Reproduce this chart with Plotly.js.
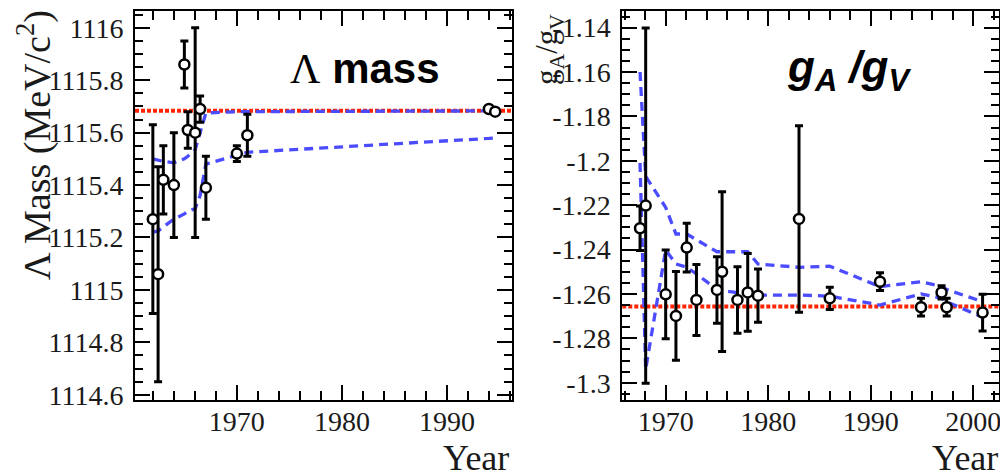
<!DOCTYPE html>
<html>
<head>
<meta charset="utf-8">
<script src="https://cdn.plot.ly/plotly-3.0.1.min.js"></script>
<style>
  html, body { margin: 0; padding: 0; background: #fff; }
  #chart { width: 1000px; height: 474px; }
</style>
</head>
<body>
<div id="chart"></div>
<script>
// Lambda mass measurements (MeV/c^2) by publication year
const massYears  = [1962.0, 1962.5, 1963.0, 1964.0, 1965.0, 1965.33, 1966.03, 1966.5, 1967.05, 1970.0, 1971.0, 1994.0, 1994.6];
const massValues = [1115.27, 1115.06, 1115.42, 1115.40, 1115.86, 1115.61, 1115.60, 1115.69, 1115.39, 1115.52, 1115.59, 1115.69, 1115.68];
const massErrors = [0.36, 0.41, 0.13, 0.20, 0.09, 0.07, 0.40, 0.05, 0.12, 0.03, 0.08, 0.01, 0.01];
// running average band (upper / lower) after each measurement
const massBandUpper = [1115.50, 1115.495, 1115.49, 1115.485, 1115.50, 1115.51, 1115.535, 1115.60, 1115.675, 1115.68, 1115.68, 1115.683, 1115.683];
const massBandLower = [1115.22, 1115.225, 1115.24, 1115.27, 1115.29, 1115.30, 1115.31, 1115.36, 1115.48, 1115.515, 1115.525, 1115.578, 1115.58];
const massReference = 1115.683;

// tick labels for the mass axis
const massTickValues = [1114.6, 1114.8, 1115, 1115.2, 1115.4, 1115.6, 1115.8, 1116];
const massTickLabels = ['1114.6', '1114.8', '1115', '1115.2', '1115.4', '1115.6', '1115.8', '1116'];

// neutron beta decay g_A/g_V measurements
const gaYears  = [1967.5, 1968.05, 1970.0, 1971.0, 1972.05, 1973.0, 1975.0, 1975.5, 1977.0, 1978.0, 1979.0, 1983.0, 1986.0, 1990.9, 1994.9, 1996.9, 1997.4, 2000.9];
const gaValues = [-1.2304, -1.2202, -1.2602, -1.2699, -1.2391, -1.2627, -1.2582, -1.2500, -1.2627, -1.2593, -1.2608, -1.2262, -1.2620, -1.2545, -1.2660, -1.2593, -1.2660, -1.2684];
const gaErrors = [0.010, 0.080, 0.020, 0.020, 0.011, 0.016, 0.015, 0.036, 0.015, 0.0175, 0.012, 0.042, 0.005, 0.004, 0.004, 0.003, 0.004, 0.0083];
const gaBandUpper = [-1.160, -1.207, -1.221, -1.233, -1.233, -1.2355, -1.241, -1.241, -1.241, -1.241, -1.2465, -1.248, -1.2475, -1.2567, -1.2545, -1.2567, -1.258, -1.2635];
const gaBandLower = [-1.201, -1.294, -1.2402, -1.2465, -1.248, -1.251, -1.258, -1.2585, -1.2594, -1.2598, -1.2605, -1.2605, -1.261, -1.265, -1.260, -1.2619, -1.2635, -1.2705];
const gaReference = -1.2657;

// tick labels for the g_A/g_V axis
const gaTickValues = [-1.14, -1.16, -1.18, -1.2, -1.22, -1.24, -1.26, -1.28, -1.3];
const gaTickLabels = ['-1.14', '-1.16', '-1.18', '-1.2', '-1.22', '-1.24', '-1.26', '-1.28', '-1.3'];

const SERIF = 'Liberation Serif, Times New Roman, serif';
const SANS = 'Liberation Sans, Arial, sans-serif';
const bandColor = 'rgb(75,75,255)';
const refColor = 'rgb(255,35,0)';

function bandTrace(x, y, xa, ya) {
  return { x: x, y: y, xaxis: xa, yaxis: ya, type: 'scatter', mode: 'lines',
    line: { color: bandColor, width: 3.3, dash: '9px,6px' }, hoverinfo: 'skip' };
}
function pointTrace(x, y, err, xa, ya) {
  return { x: x, y: y, xaxis: xa, yaxis: ya, type: 'scatter', mode: 'markers',
    error_y: { type: 'data', array: err, visible: true, color: '#000', thickness: 3, width: 4 },
    marker: { symbol: 'circle', size: 10, color: '#fff', line: { color: '#000', width: 2.5 } } };
}

const data = [
  bandTrace(massYears, massBandUpper, 'x', 'y'),
  bandTrace(massYears, massBandLower, 'x', 'y'),
  pointTrace(massYears, massValues, massErrors, 'x', 'y'),
  bandTrace(gaYears, gaBandUpper, 'x2', 'y2'),
  bandTrace(gaYears, gaBandLower, 'x2', 'y2'),
  pointTrace(gaYears, gaValues, gaErrors, 'x2', 'y2')
];

const tickFont = { family: SERIF, size: 28, color: '#1a1a1a' };
function frameAxis(extra) {
  return Object.assign({
    showline: true, linecolor: '#000', linewidth: 2, mirror: 'allticks',
    ticks: 'inside', tickcolor: '#000', tickwidth: 2, ticklen: 15,
    showgrid: false, zeroline: false, tickfont: tickFont, automargin: false,
    ticklabelstandoff: 4, ticklabeloverflow: 'allow'
  }, extra);
}

const yDomain = [1 - 400 / 474, 1 - 11 / 474];

const layout = {
  width: 1000, height: 474,
  margin: { l: 0, r: 0, t: 0, b: 0 },
  paper_bgcolor: '#fff', plot_bgcolor: '#fff',
  showlegend: false,
  xaxis: frameAxis({ domain: [0.135, 0.512], range: [1960.3, 1996.2], tick0: 1970, dtick: 10,
    ticklabelstandoff: -5,
    minor: { dtick: 2, ticks: 'inside', ticklen: 9, tickwidth: 2, tickcolor: '#000' } }),
  yaxis: frameAxis({ domain: yDomain, range: [1114.58, 1116.064],
    tickmode: 'array', tickvals: massTickValues, ticktext: massTickLabels,
    minor: { tick0: 1114.6, dtick: 0.05, ticks: 'inside', ticklen: 8, tickwidth: 2, tickcolor: '#000' } }),
  xaxis2: frameAxis({ anchor: 'y2', domain: [0.6223, 0.999], range: [1965.77, 2002.5], tick0: 1970, dtick: 10,
    ticklabelstandoff: -5,
    minor: { dtick: 2, ticks: 'inside', ticklen: 9, tickwidth: 2, tickcolor: '#000' } }),
  yaxis2: frameAxis({ anchor: 'x2', domain: yDomain, range: [-1.3078, -1.1325],
    tickmode: 'array', tickvals: gaTickValues, ticktext: gaTickLabels,
    minor: { tick0: -1.3, dtick: 0.005, ticks: 'inside', ticklen: 8, tickwidth: 2, tickcolor: '#000' } }),
  shapes: [
    { type: 'line', layer: 'below', xref: 'x domain', yref: 'y', x0: 0, x1: 1, y0: massReference, y1: massReference,
      line: { color: refColor, width: 4, dash: '4px,2px' } },
    { type: 'line', layer: 'below', xref: 'x2 domain', yref: 'y2', x0: 0, x1: 1, y0: gaReference, y1: gaReference,
      line: { color: refColor, width: 4, dash: '4px,2px' } }
  ],
  annotations: [
    { xref: 'paper', yref: 'paper', x: 0.365, y: 1 - 68 / 474, xanchor: 'center', yanchor: 'middle', showarrow: false,
      text: '<span style="font-family:Liberation Serif">Λ</span> <b>mass</b>',
      font: { family: SANS, size: 42, color: '#000' } },
    { xref: 'paper', yref: 'paper', x: 0.849, y: 1 - 70 / 474, xanchor: 'center', yanchor: 'middle', showarrow: false,
      text: '<b><i>g<sub>A</sub> /g<sub>V</sub></i></b>',
      font: { family: SANS, size: 44, color: '#000' } },
    { xref: 'paper', yref: 'paper', x: 0.035, y: 1 - 145 / 474, xanchor: 'center', yanchor: 'middle', showarrow: false,
      textangle: -90, text: 'Λ Mass (MeV/c<sup>2</sup>)',
      font: { family: SERIF, size: 38, color: '#1a1a1a' } },
    { xref: 'paper', yref: 'paper', x: 0.549, y: 1 - 50 / 474, xanchor: 'center', yanchor: 'middle', showarrow: false,
      textangle: -90, text: 'g<sub>A</sub>/g<sub>V</sub>',
      font: { family: SERIF, size: 31, color: '#1a1a1a' } },
    { xref: 'paper', yref: 'paper', x: 0.511, y: 1 - 458 / 474, xanchor: 'right', yanchor: 'middle', showarrow: false,
      text: 'Year', font: { family: SERIF, size: 36, color: '#1a1a1a' } },
    { xref: 'paper', yref: 'paper', x: 1.0, y: 1 - 458 / 474, xanchor: 'right', yanchor: 'middle', showarrow: false,
      text: 'Year', font: { family: SERIF, size: 36, color: '#1a1a1a' } }
  ]
};

Plotly.newPlot('chart', data, layout, { staticPlot: true, displayModeBar: false });
</script>
</body>
</html>
